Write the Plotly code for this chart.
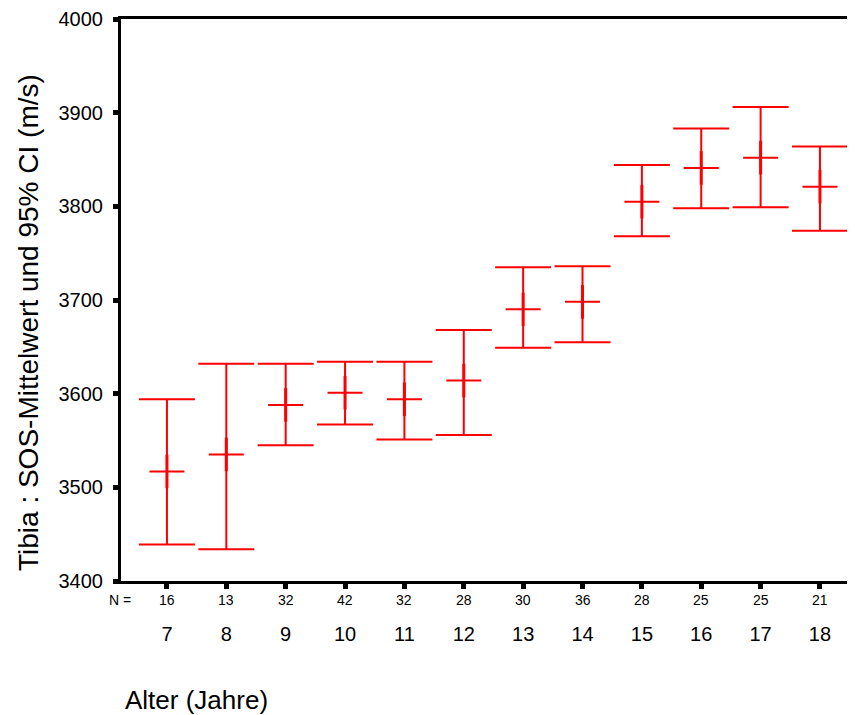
import plotly.graph_objects as go

ages = [7, 8, 9, 10, 11, 12, 13, 14, 15, 16, 17, 18]
n_counts = [16, 13, 32, 42, 32, 28, 30, 36, 28, 25, 25, 21]
means = [3517, 3535, 3588, 3601, 3594, 3614, 3690, 3698, 3805, 3841, 3852, 3821]
ci_upper = [3594, 3632, 3632, 3634, 3634, 3668, 3735, 3736, 3844, 3883, 3906, 3864]
ci_lower = [3439, 3434, 3545, 3567, 3551, 3556, 3649, 3655, 3768, 3798, 3799, 3774]

RED = "#FF0000"
FONT = "Arial, Liberation Sans, sans-serif"

err_plus = [u - m for u, m in zip(ci_upper, means)]
err_minus = [m - l for m, l in zip(means, ci_lower)]

fig = go.Figure()
fig.add_trace(go.Scatter(
    x=ages, y=means, mode="markers",
    marker=dict(symbol="line-ew-open", size=25, color=RED, line=dict(color=RED, width=2)),
    error_y=dict(type="data", symmetric=False, array=err_plus, arrayminus=err_minus,
                 color=RED, thickness=2, width=28),
    showlegend=False, hoverinfo="skip",
))
fig.add_trace(go.Scatter(
    x=ages, y=means, mode="markers",
    marker=dict(symbol="line-ns-open", size=24, color=RED, line=dict(color=RED, width=3)),
    showlegend=False, hoverinfo="skip",
))

annotations = []
for a, n in zip(ages, n_counts):
    annotations.append(dict(x=a, xref="x", y=0, yref="paper", yshift=-19, text=str(n),
                            showarrow=False, font=dict(size=14, color="black", family=FONT),
                            xanchor="center", yanchor="middle"))
annotations.append(dict(x=0, xref="paper", xshift=-1, y=0, yref="paper", yshift=-19, text="N =",
                        showarrow=False, font=dict(size=14, color="black", family=FONT),
                        xanchor="center", yanchor="middle"))
annotations.append(dict(x=0, xref="paper", xshift=-93, y=0.459, yref="paper",
                        text="Tibia : SOS-Mittelwert und 95% CI (m/s)", textangle=-90,
                        showarrow=False, font=dict(size=28, color="black", family=FONT),
                        xanchor="center", yanchor="middle"))
annotations.append(dict(x=0.1035, xref="paper", y=-0.211, yref="paper",
                        text="Alter (Jahre)",
                        showarrow=False, font=dict(size=26, color="black", family=FONT),
                        xanchor="center", yanchor="middle"))

fig.update_layout(
    width=847, height=707,
    margin=dict(l=113, r=0, t=9, b=134),
    paper_bgcolor="white", plot_bgcolor="white",
    font=dict(family=FONT, color="black"),
    annotations=annotations,
    xaxis=dict(range=[6.226, 18.59], tickvals=ages, ticktext=[str(a) for a in ages],
               showgrid=False, zeroline=False, showline=True, linecolor="black", linewidth=3,
               mirror=True, ticks="outside", ticklen=5, tickwidth=5, tickcolor="black",
               tickfont=dict(size=20, family=FONT), ticklabelstandoff=28),
    yaxis=dict(range=[3400, 4000], tickvals=[3400, 3500, 3600, 3700, 3800, 3900, 4000],
               showgrid=False, zeroline=False, showline=True, linecolor="black", linewidth=3,
               ticks="outside", ticklen=5, tickwidth=5, tickcolor="black",
               ticklabeloverflow="allow",
               tickfont=dict(size=20, family=FONT), ticklabelstandoff=6),
)

fig.write_html("out.html")
